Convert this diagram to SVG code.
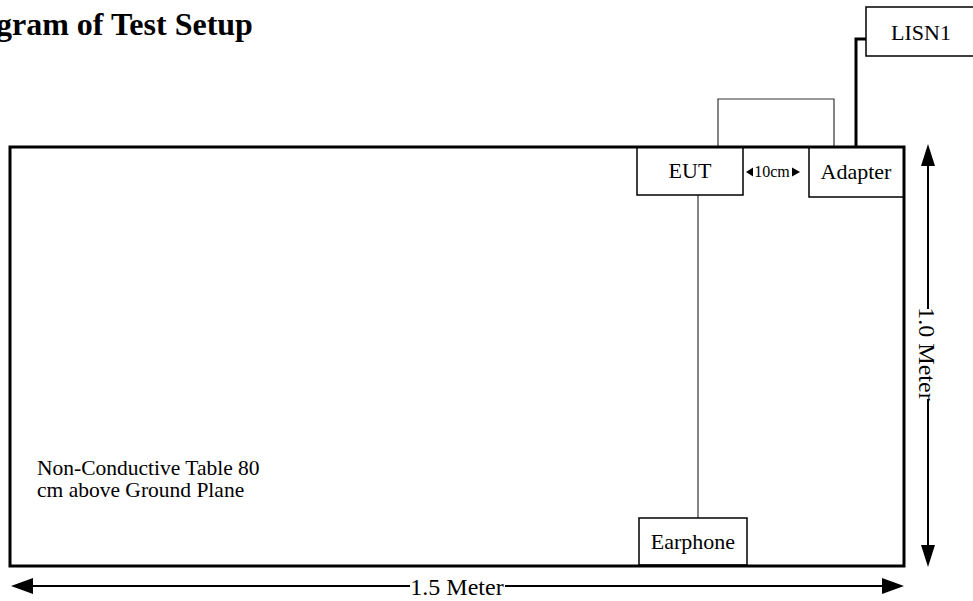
<svg xmlns="http://www.w3.org/2000/svg" width="973" height="601" viewBox="0 0 973 601">
  <style>
    .t { font-family: "Liberation Serif", "Times New Roman", serif; fill: #000; }
    .lbl { font-size: 22px; text-anchor: middle; }
    .box { fill: #fff; stroke: #000; stroke-width: 1.5; }
    .thin { fill: none; stroke: #333; stroke-width: 1.2; }
    .thick { fill: none; stroke: #000; stroke-width: 3; }
    .dim { fill: none; stroke: #000; stroke-width: 2; }
    .head { fill: #000; }
  </style>
  <rect width="973" height="601" fill="#fff"/>
  <text class="t" x="-4" y="35" font-size="32" font-weight="bold">gram of Test Setup</text>

  <g id="connectors">
    <path class="thin" d="M718,147 V99 H834 V147"/>
    <path class="thin" d="M698,195 V518"/>
    <path class="thick" d="M856,147 V39 H866"/>
  </g>

  <g id="eut">
    <rect class="box" x="637" y="147" width="106" height="48"/>
    <text class="t lbl" x="690" y="178">EUT</text>
  </g>
  <g id="adapter">
    <rect class="box" x="809" y="147" width="95" height="50"/>
    <text class="t lbl" x="856" y="179">Adapter</text>
  </g>
  <g id="earphone">
    <rect class="box" x="639" y="518" width="108" height="47"/>
    <text class="t lbl" x="693" y="549">Earphone</text>
  </g>
  <g id="lisn1">
    <rect class="box" x="866" y="7" width="112" height="49"/>
    <text class="t lbl" x="921" y="40">LISN1</text>
  </g>

  <g id="table">
    <rect x="10" y="147" width="894" height="419" fill="none" stroke="#000" stroke-width="3"/>
    <text class="t" x="37" y="475" font-size="21.5">Non-Conductive Table 80</text>
    <text class="t" x="37" y="497" font-size="21.5">cm above Ground Plane</text>
  </g>

  <g id="spacing">
    <polygon class="head" points="746,172 753,167.5 753,176.5"/>
    <text class="t" x="772" y="177" font-size="16" text-anchor="middle">10cm</text>
    <polygon class="head" points="800,172 792,167.5 792,176.5"/>
  </g>

  <g id="dimensions">
    <path class="dim" d="M30,586 H410 M505,586 H885"/>
    <polygon class="head" points="11,586 33,578 33,594"/>
    <polygon class="head" points="904,586 882,578 882,594"/>
    <text class="t" x="457" y="595" font-size="24" text-anchor="middle">1.5 Meter</text>

    <path class="dim" d="M928,163 V309 M928,399 V548"/>
    <polygon class="head" points="928,144 921,166 935,166"/>
    <polygon class="head" points="928,567 921,545 935,545"/>
    <text class="t" transform="translate(919,354) rotate(90)" font-size="24" text-anchor="middle">1.0 Meter</text>
  </g>
</svg>
